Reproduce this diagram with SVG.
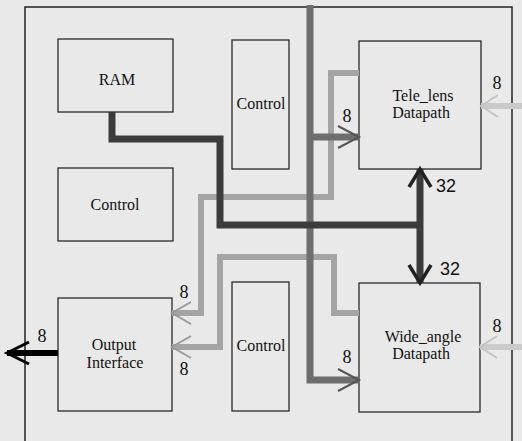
<svg xmlns="http://www.w3.org/2000/svg" width="522" height="441" viewBox="0 0 522 441">
<style>
.box{fill:none;stroke:#2a2a2a;stroke-width:1.3}
.t{font-size:16px;fill:#111;text-anchor:middle}
.n{font-size:18px;fill:#111;text-anchor:middle}
.ns{font-size:18px;fill:#111;text-anchor:middle}
.w{fill:none;stroke-linejoin:miter;stroke-linecap:butt}
.dark{stroke:#3c3c3c;stroke-width:7}
.mid{stroke:#6e6e6e;stroke-width:7}
.light{stroke:#a4a4a4;stroke-width:6}
.pale{stroke:#cacaca;stroke-width:6}
.blk{stroke:#000;stroke-width:6}
</style>
<defs>
<marker id="aMid" markerUnits="userSpaceOnUse" markerWidth="30" markerHeight="30" viewBox="-25 -15 30 30" refX="0" refY="0" orient="auto"><path d="M-21,-11 L0,0 L-21,11" fill="none" stroke="#555" stroke-width="2"/></marker>
<marker id="aDark" markerUnits="userSpaceOnUse" markerWidth="30" markerHeight="30" viewBox="-25 -15 30 30" refX="0" refY="0" orient="auto-start-reverse"><path d="M-18,-11 L0,0 L-18,11" fill="none" stroke="#222" stroke-width="3.5"/></marker>
<marker id="aLight" markerUnits="userSpaceOnUse" markerWidth="30" markerHeight="30" viewBox="-25 -15 30 30" refX="0" refY="0" orient="auto"><path d="M-19,-11 L0,0 L-19,11" fill="none" stroke="#9a9a9a" stroke-width="2"/></marker>
<marker id="aPale" markerUnits="userSpaceOnUse" markerWidth="30" markerHeight="30" viewBox="-25 -15 30 30" refX="0" refY="0" orient="auto"><path d="M-17,-11 L0,0 L-17,11" fill="none" stroke="#c4c4c4" stroke-width="2"/></marker>
<marker id="aBlk" markerUnits="userSpaceOnUse" markerWidth="30" markerHeight="30" viewBox="-25 -15 30 30" refX="0" refY="0" orient="auto"><path d="M-22,-11 L0,0 L-22,11" fill="none" stroke="#000" stroke-width="3"/></marker>
</defs>
<rect x="0" y="0" width="522" height="441" fill="#e9e9e9"/>
<path d="M25,441 V7 H512 V441" fill="none" stroke="#222" stroke-width="1.5"/>

<g font-family="Liberation Serif, serif">
<g id="ram"><rect class="box" x="58" y="39" width="115" height="73"/><text class="t" x="117" y="85">RAM</text></g>
<g id="control-left"><rect class="box" x="58" y="168" width="115" height="73"/><text class="t" x="115" y="210">Control</text></g>
<g id="output-interface"><rect class="box" x="58" y="298" width="114" height="113"/><text class="t" x="114" y="350">Output</text><text class="t" x="115" y="368">Interface</text></g>
<g id="control-top"><rect class="box" x="232" y="40" width="57" height="129"/><text class="t" x="261" y="109">Control</text></g>
<g id="control-bottom"><rect class="box" x="232" y="282" width="57" height="129"/><text class="t" x="261" y="351">Control</text></g>
<g id="tele-lens"><rect class="box" x="359" y="41" width="122" height="128"/><text class="t" x="423" y="101">Tele_lens</text><text class="t" x="421" y="118">Datapath</text></g>
<g id="wide-angle"><rect class="box" x="359" y="283" width="121" height="129"/><text class="t" x="423" y="342">Wide_angle</text><text class="t" x="421" y="359">Datapath</text></g>
</g>

<g id="connectors" font-family="Liberation Serif, serif">
<path class="w pale" d="M522,106 H481" marker-end="url(#aPale)"/>
<path class="w pale" d="M522,347 H480" marker-end="url(#aPale)"/>
<path class="w light" d="M359,73 H331 V197 H201 V313 H172" marker-end="url(#aLight)"/>
<path class="w light" d="M359,313 H334 V257 H220 V347 H172" marker-end="url(#aLight)"/>
<path class="w mid" d="M310,5 V380 H359" marker-end="url(#aMid)"/>
<path class="w mid" d="M310,137 H359" marker-end="url(#aMid)"/>
<path class="w dark" d="M112,112 V139 H220 V225 H420"/>
<path class="w dark" d="M420,169 V283" marker-start="url(#aDark)" marker-end="url(#aDark)"/>
<path class="w blk" d="M58,353 H7" marker-end="url(#aBlk)"/>
<text class="n" x="347" y="122">8</text>
<text class="n" x="347" y="363">8</text>
<text class="n" x="497" y="89">8</text>
<text class="n" x="497" y="332">8</text>
<text class="n" x="184" y="298">8</text>
<text class="n" x="184" y="375">8</text>
<text class="n" x="42" y="342">8</text>
<text class="ns" x="446" y="192" font-family="Liberation Sans, sans-serif">32</text>
<text class="ns" x="450" y="275" font-family="Liberation Sans, sans-serif">32</text>
</g>
</svg>
